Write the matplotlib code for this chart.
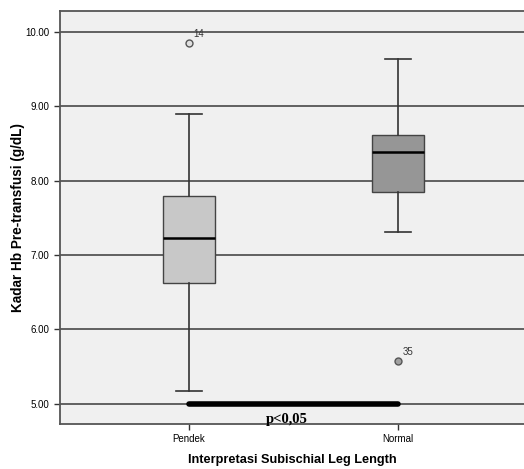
import matplotlib.pyplot as plt

plt.rcParams['font.family'] = ['Liberation Sans', 'DejaVu Sans']

# data
groups = ['Pendek', 'Normal']
whislo = [5.17, 7.31]
q1 = [6.63, 7.85]
med = [7.23, 8.39]
q3 = [7.80, 8.62]
whishi = [8.90, 9.63]
outliers = [[9.85], [5.58]]
outlier_ids = [['14'], ['35']]
box_colors = ['#c8c8c8', '#969696']
yticks = [5, 6, 7, 8, 9, 10]

fig = plt.figure(figsize=(5.24, 4.69), dpi=100)
ax = fig.add_axes([0.1145, 0.096, 0.8855, 0.8805])
ax.set_facecolor('#f0f0f0')

for y in yticks:
    ax.axhline(y, color='#555555', lw=1.3, zorder=1)

stats = []
for i, g in enumerate(groups):
    stats.append({'label': g, 'whislo': whislo[i], 'q1': q1[i], 'med': med[i],
                  'q3': q3[i], 'whishi': whishi[i], 'fliers': []})

bp = ax.bxp(stats, positions=[1, 2], widths=0.25, patch_artist=True,
            showfliers=False, zorder=3,
            boxprops=dict(edgecolor='#444444', lw=1.0),
            medianprops=dict(color='black', lw=1.8),
            whiskerprops=dict(color='#333333', lw=1.2),
            capprops=dict(color='#333333', lw=1.2),
            capwidths=0.125)
for patch, c in zip(bp['boxes'], box_colors):
    patch.set_facecolor(c)

outlier_fill = ['#e0e0e0', '#a0a0a0']
for i, (vals, ids) in enumerate(zip(outliers, outlier_ids)):
    for v, lab in zip(vals, ids):
        ax.plot(i + 1, v, 'o', ms=5, mfc=outlier_fill[i], mec='#555555', mew=1.0, zorder=4)
        ax.text(i + 1.02, v + 0.08, lab, fontsize=7, color='#333333', zorder=4)

# significance bar
ax.plot([1, 2], [5.0, 5.0], color='black', lw=4, solid_capstyle='round', zorder=5)
ax.text(1.47, 4.79, 'p<0,05', fontsize=10.5, fontweight='bold', family='Liberation Serif',
        ha='center', va='center', zorder=6)

ax.set_xlim(0.385, 2.6)
ax.set_ylim(4.73, 10.28)
ax.set_xticks([1, 2])
ax.set_xticklabels(groups, fontsize=7)
ax.set_yticks(yticks)
ax.set_yticklabels(['%.2f' % t for t in yticks], fontsize=7)
ax.tick_params(length=4, color='#333333', width=1)

ax.set_xlabel('Interpretasi Subischial Leg Length', fontsize=9.2, fontweight='bold', va='center')
ax.xaxis.set_label_coords(0.5, -0.088)
ax.set_ylabel('Kadar Hb Pre-transfusi (g/dL)', fontsize=9.8, fontweight='bold', va='center')
ax.yaxis.set_label_coords(-0.091, 0.5)

for s in ['left', 'bottom', 'top']:
    ax.spines[s].set_color('#555555')
    ax.spines[s].set_linewidth(1.3)
ax.spines['right'].set_visible(False)

fig.savefig('out.png', dpi=100)
